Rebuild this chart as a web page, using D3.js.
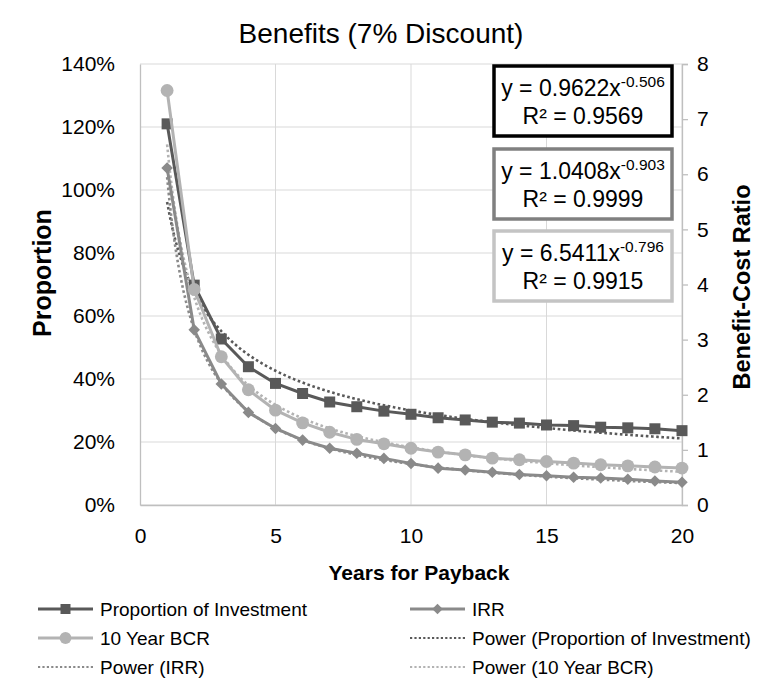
<!DOCTYPE html>
<html>
<head>
<meta charset="utf-8">
<script src="https://cdn.jsdelivr.net/npm/d3@7"></script>
<style>
  html, body { margin: 0; padding: 0; background: #fff; }
  svg { display: block; font-family: "Liberation Sans", Arial, sans-serif; }
</style>
</head>
<body>
<svg id="chart" width="764" height="687"></svg>
<script>
// ---- data ----
const years = [1,2,3,4,5,6,7,8,9,10,11,12,13,14,15,16,17,18,19,20];
const proportionInvestment = [1.21,0.698,0.527,0.439,0.386,0.354,0.327,0.312,0.298,0.288,0.277,0.270,0.263,0.260,0.254,0.252,0.247,0.245,0.242,0.236];
const irr = [1.07,0.556,0.384,0.294,0.243,0.206,0.180,0.164,0.148,0.132,0.117,0.111,0.104,0.097,0.093,0.088,0.086,0.082,0.076,0.072];
const bcr10 = [7.52,3.91,2.69,2.09,1.72,1.49,1.32,1.19,1.11,1.03,0.96,0.91,0.85,0.82,0.79,0.76,0.73,0.71,0.69,0.67];
// power trendline coefficients (y = a * x^b) as shown on chart
const fitNames = ["Proportion of Investment", "IRR", "10 Year BCR"];
const fitA = [0.9622, 1.0408, 6.5411];
const fitB = [-0.506, -0.903, -0.796];
const fitR2 = ["0.9569", "0.9999", "0.9915"];
const xTicks = [0,5,10,15,20];
const yLeftTicks = [0,0.2,0.4,0.6,0.8,1.0,1.2,1.4];
const yRightTicks = [0,1,2,3,4,5,6,7,8];

// ---- layout ----
const svg = d3.select("#chart");
const L = 140, R = 682, T = 64, B = 505;
const x = d3.scaleLinear().domain([0,20]).range([L,R]);
const yL = d3.scaleLinear().domain([0,1.4]).range([B,T]);
const yR = d3.scaleLinear().domain([0,8]).range([B,T]);

const cDark = "#595959", cMid = "#8a8a8a", cLight = "#b3b3b3";
const gridC = "#d9d9d9", axisC = "#bfbfbf";

// gridlines
svg.append("g").selectAll("line").data(yLeftTicks).join("line")
  .attr("x1", L).attr("x2", R).attr("y1", d => yL(d)).attr("y2", d => yL(d))
  .attr("stroke", gridC).attr("stroke-width", 1);
svg.append("g").selectAll("line").data(xTicks.filter(d => d > 0)).join("line")
  .attr("x1", d => x(d)).attr("x2", d => x(d)).attr("y1", T).attr("y2", B)
  .attr("stroke", gridC).attr("stroke-width", 1);

// axes
const axL = svg.append("g").attr("transform", `translate(${L},0)`)
  .call(d3.axisLeft(yL).tickValues(yLeftTicks).tickSize(0).tickPadding(25).tickFormat(d3.format(".0%")));
const axB = svg.append("g").attr("transform", `translate(0,${B})`)
  .call(d3.axisBottom(x).tickValues(xTicks).tickSize(0).tickPadding(23));
const axR = svg.append("g").attr("transform", `translate(${R},0)`)
  .call(d3.axisRight(yR).tickValues(yRightTicks).tickSize(6).tickPadding(9));
[axL, axB, axR].forEach(g => {
  g.select(".domain").attr("stroke", axisC).attr("stroke-width", 1.3);
  g.selectAll(".tick line").attr("stroke", axisC).attr("stroke-width", 1.3);
  g.selectAll(".tick text").attr("fill", "#000").attr("font-size", 21)
    .attr("font-family", '"Liberation Sans", Arial, sans-serif');
});

// trendlines (dotted)
const fitColors = [cDark, cMid, cLight];
const fitScales = [yL, yL, yR];
const curveX = d3.range(1, 20.0001, 0.1);
fitA.forEach((a, i) => {
  const line = d3.line().x(d => x(d)).y(d => fitScales[i](a * Math.pow(d, fitB[i])));
  svg.append("path").datum(curveX).attr("d", line)
    .attr("fill", "none").attr("stroke", fitColors[i]).attr("stroke-width", 2.6)
    .attr("stroke-dasharray", "2.6,2.6");
});

// series
const series = [
  { name: "Proportion of Investment", vals: proportionInvestment, y: yL, color: cDark, sym: d3.symbolSquare, size: 121 },
  { name: "IRR", vals: irr, y: yL, color: cMid, sym: d3.symbolDiamond2, size: 85 },
  { name: "10 Year BCR", vals: bcr10, y: yR, color: cLight, sym: d3.symbolCircle, size: 130 }
];
series.forEach(s => {
  const line = d3.line().x((d, i) => x(years[i])).y(d => s.y(d));
  svg.append("path").datum(s.vals).attr("d", line)
    .attr("fill", "none").attr("stroke", s.color).attr("stroke-width", 3).attr("stroke-linejoin", "round");
  svg.append("g").selectAll("path").data(s.vals).join("path")
    .attr("d", d3.symbol().type(s.sym).size(s.size))
    .attr("transform", (d, i) => `translate(${x(years[i])},${s.y(d)})`)
    .attr("fill", s.color);
});

// equation boxes
const boxBorder = ["#000000", "#808080", "#c4c4c4"];
const boxTop = [66, 149, 231];
const boxX = 494, boxW = 178, boxH = 70;
fitA.forEach((a, i) => {
  const g = svg.append("g");
  g.append("rect").attr("x", boxX).attr("y", boxTop[i]).attr("width", boxW).attr("height", boxH)
    .attr("fill", "#fff").attr("stroke", boxBorder[i]).attr("stroke-width", 3.5);
  const t1 = g.append("text").attr("x", boxX + boxW / 2).attr("y", boxTop[i] + 30)
    .attr("text-anchor", "middle").attr("font-size", 23).attr("fill", "#000");
  t1.append("tspan").text(`y = ${a.toFixed(4)}x`);
  t1.append("tspan").attr("dy", -9).attr("font-size", 15.5).text(fitB[i].toFixed(3));
  g.append("text").attr("x", boxX + boxW / 2).attr("y", boxTop[i] + 58)
    .attr("text-anchor", "middle").attr("font-size", 23).attr("fill", "#000")
    .text(`R² = ${fitR2[i]}`);
});

// titles
svg.append("text").attr("x", 381).attr("y", 43).attr("text-anchor", "middle")
  .attr("font-size", 28).attr("fill", "#000").text("Benefits (7% Discount)");
svg.append("text").attr("x", 419).attr("y", 580).attr("text-anchor", "middle")
  .attr("font-size", 21).attr("font-weight", "bold").attr("fill", "#000").text("Years for Payback");
svg.append("text").attr("transform", "translate(51,273) rotate(-90)").attr("text-anchor", "middle")
  .attr("font-size", 25).attr("font-weight", "bold").attr("fill", "#000").text("Proportion");
svg.append("text").attr("transform", "translate(750,287) rotate(-90)").attr("text-anchor", "middle")
  .attr("font-size", 23.5).attr("font-weight", "bold").attr("fill", "#000").text("Benefit-Cost Ratio");

// legend
const legendItems = [
  { label: "Proportion of Investment", color: cDark, sym: d3.symbolSquare, size: 100, dotted: false, col: 0, row: 0 },
  { label: "IRR", color: cMid, sym: d3.symbolDiamond2, size: 70, dotted: false, col: 1, row: 0 },
  { label: "10 Year BCR", color: cLight, sym: d3.symbolCircle, size: 110, dotted: false, col: 0, row: 1 },
  { label: "Power (Proportion of Investment)", color: cDark, dotted: true, col: 1, row: 1 },
  { label: "Power (IRR)", color: cMid, dotted: true, col: 0, row: 2 },
  { label: "Power (10 Year BCR)", color: cLight, dotted: true, col: 1, row: 2 }
];
const colX = [38, 410], rowY = [609, 638, 667];
legendItems.forEach(it => {
  const g = svg.append("g").attr("transform", `translate(${colX[it.col]},${rowY[it.row]})`);
  g.append("line").attr("x1", 0).attr("x2", 55).attr("y1", 0).attr("y2", 0)
    .attr("stroke", it.color).attr("stroke-width", it.dotted ? 2.2 : 3)
    .attr("stroke-dasharray", it.dotted ? "2.2,2.2" : null);
  if (!it.dotted) g.append("path").attr("d", d3.symbol().type(it.sym).size(it.size))
    .attr("transform", "translate(27.5,0)").attr("fill", it.color);
  g.append("text").attr("x", 62).attr("y", 7).attr("font-size", 19)
    .attr("font-family", '"Liberation Sans Narrow", "Liberation Sans", Arial, sans-serif')
    .attr("fill", "#000").text(it.label);
});
</script>
</body>
</html>
